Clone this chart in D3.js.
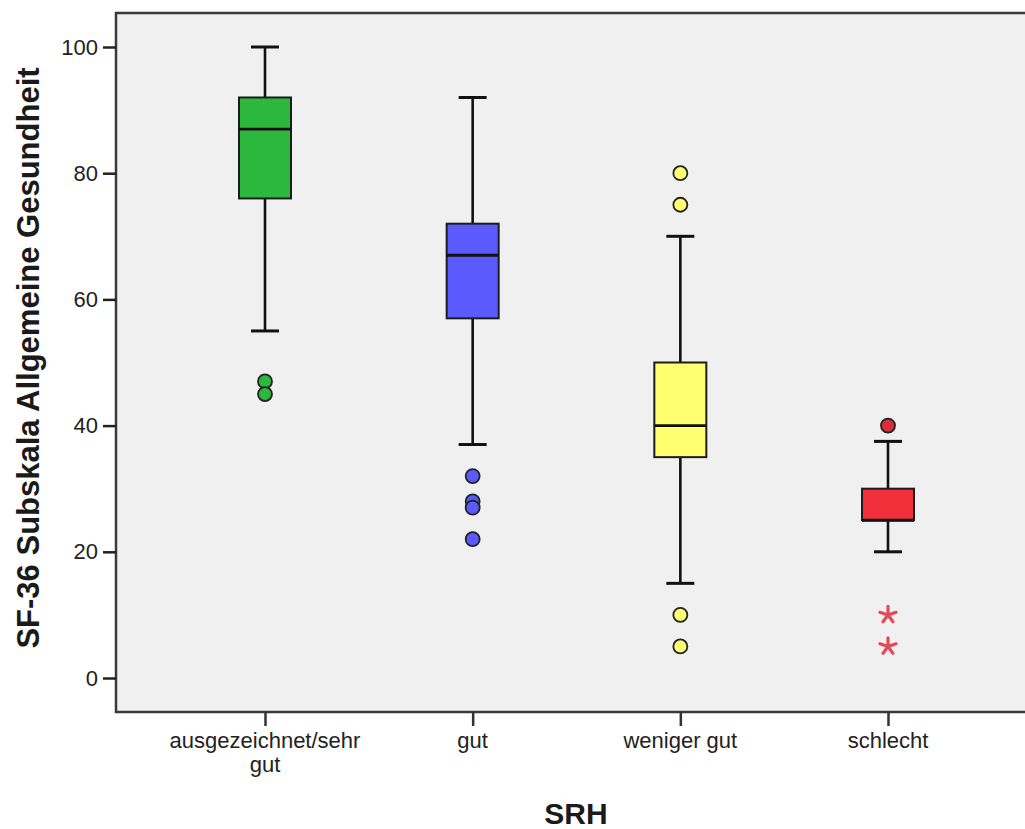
<!DOCTYPE html>
<html>
<head>
<meta charset="utf-8">
<script src="https://cdn.jsdelivr.net/npm/d3@7"></script>
<style>
  html, body { margin: 0; padding: 0; background: #ffffff; }
  svg { display: block; font-family: "Liberation Sans", Arial, sans-serif; }
</style>
</head>
<body>
<svg id="chart" width="1025" height="829"></svg>
<script>
// SRH categories and SF-36 general health summary per group
const categories = ["ausgezeichnet/sehr\ngut", "gut", "weniger gut", "schlecht"];
const whiskerLow  = [55, 37, 15, 20];
const q1          = [76, 57, 35, 25];
const medians     = [87, 67, 40, 25];
const q3          = [92, 72, 50, 30];
const whiskerHigh = [100, 92, 70, 37.5];
const outliers    = [[47, 45], [32, 28, 27, 22], [80, 75, 10, 5], [40]];
const extremes    = [[], [], [], [10, 5]];
const fillColors  = ["#2cb83d", "#5a5aff", "#ffff70", "#f2303c"];
const dotColors   = ["#2cb83d", "#5a5aff", "#ffff70", "#dc2e3a"];
const starColor   = "#e44a56";
const yTicks      = [0, 20, 40, 60, 80, 100];
const yTitle      = "SF-36 Subskala Allgemeine Gesundheit";
const xTitle      = "SRH";

const svg = d3.select("#chart");

// plot frame
const frame = { left: 116, top: 13, right: 1032, bottom: 712 };

const y = d3.scaleLinear().domain([0, 100]).range([678, 47]);
const x = d3.scalePoint().domain(categories).range([265, 888]);

svg.append("rect")
  .attr("x", frame.left).attr("y", frame.top)
  .attr("width", frame.right - frame.left)
  .attr("height", frame.bottom - frame.top)
  .attr("fill", "#f0f0f0")
  .attr("stroke", "#3a3a3a")
  .attr("stroke-width", 2.5);

// y axis
const yAxis = d3.axisLeft(y).tickValues(yTicks).tickSize(13).tickPadding(5);
const gy = svg.append("g").attr("transform", `translate(${frame.left},0)`).call(yAxis);
gy.select(".domain").remove();
gy.selectAll(".tick line").attr("stroke", "#222").attr("stroke-width", 2.5);
gy.selectAll(".tick text")
  .attr("font-size", 22).attr("fill", "#222")
  .attr("font-family", "Liberation Sans, Arial, sans-serif");

// x axis
const xAxis = d3.axisBottom(x).tickSize(14).tickFormat(() => "");
const gx = svg.append("g").attr("transform", `translate(0,${frame.bottom})`).call(xAxis);
gx.select(".domain").remove();
gx.selectAll(".tick line").attr("stroke", "#333").attr("stroke-width", 2.5);

// category labels (may span two lines)
const labels = svg.append("g")
  .attr("font-size", 22).attr("fill", "#222").attr("text-anchor", "middle");
categories.forEach(c => {
  const t = labels.append("text").attr("x", x(c)).attr("y", 748);
  c.split("\n").forEach((line, i) => {
    t.append("tspan").attr("x", x(c)).attr("dy", i === 0 ? 0 : 24).text(line);
  });
});

// axis titles
svg.append("text")
  .attr("transform", `translate(39,358) rotate(-90)`)
  .attr("text-anchor", "middle")
  .attr("font-size", 31).attr("font-weight", "bold").attr("fill", "#1a1a1a")
  .text(yTitle);

svg.append("text")
  .attr("x", 576).attr("y", 824)
  .attr("text-anchor", "middle")
  .attr("font-size", 30).attr("font-weight", "bold").attr("fill", "#1a1a1a")
  .text(xTitle);

// boxplots
const boxW = 52, capW = 28;
const plots = svg.append("g");
categories.forEach((c, i) => {
  const cx = x(c);
  const g = plots.append("g");
  // whiskers
  g.append("line").attr("x1", cx).attr("x2", cx)
    .attr("y1", y(whiskerHigh[i])).attr("y2", y(q3[i]))
    .attr("stroke", "#111").attr("stroke-width", 2.6);
  g.append("line").attr("x1", cx).attr("x2", cx)
    .attr("y1", y(q1[i])).attr("y2", y(whiskerLow[i]))
    .attr("stroke", "#111").attr("stroke-width", 2.6);
  [whiskerHigh[i], whiskerLow[i]].forEach(v => {
    g.append("line").attr("x1", cx - capW / 2).attr("x2", cx + capW / 2)
      .attr("y1", y(v)).attr("y2", y(v))
      .attr("stroke", "#111").attr("stroke-width", 3);
  });
  // box
  g.append("rect")
    .attr("x", cx - boxW / 2).attr("width", boxW)
    .attr("y", y(q3[i])).attr("height", y(q1[i]) - y(q3[i]))
    .attr("fill", fillColors[i])
    .attr("stroke", "#1c1c1c").attr("stroke-width", 2);
  // median
  g.append("line").attr("x1", cx - boxW / 2).attr("x2", cx + boxW / 2)
    .attr("y1", y(medians[i])).attr("y2", y(medians[i]))
    .attr("stroke", "#111").attr("stroke-width", 2.8);
  // outliers
  outliers[i].forEach(v => {
    g.append("circle").attr("cx", cx).attr("cy", y(v)).attr("r", 7)
      .attr("fill", dotColors[i]).attr("stroke", "#222").attr("stroke-width", 1.8);
  });
  // extreme values as asterisks
  extremes[i].forEach(v => {
    const arms = d3.range(5).map(k => -Math.PI / 2 + k * 2 * Math.PI / 5);
    const s = g.append("g").attr("transform", `translate(${cx},${y(v)})`);
    arms.forEach(a => {
      s.append("line").attr("x1", 0).attr("y1", 0)
        .attr("x2", 8.5 * Math.cos(a)).attr("y2", 8.5 * Math.sin(a))
        .attr("stroke", starColor).attr("stroke-width", 3.2)
        .attr("stroke-linecap", "round");
    });
  });
});
</script>
</body>
</html>
